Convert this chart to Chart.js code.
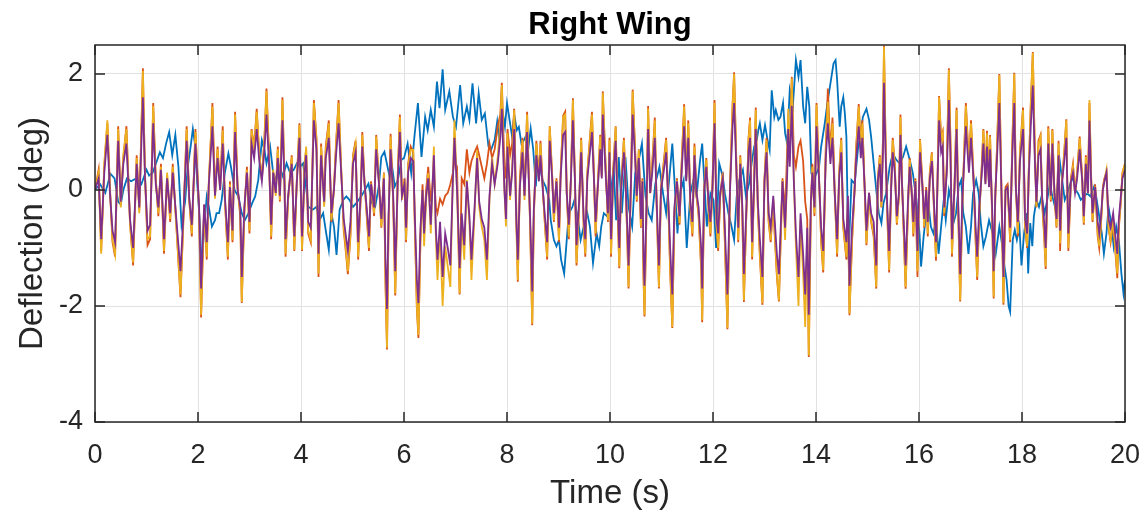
<!DOCTYPE html>
<html>
<head>
<meta charset="utf-8">
<title>Right Wing</title>
<script src="https://cdn.jsdelivr.net/npm/chart.js@4.4.1/dist/chart.umd.min.js"></script>
<style>
  html, body { margin: 0; padding: 0; background: #fff; }
  #wing-chart { display: block; }
</style>
</head>
<body>
<canvas id="wing-chart" width="1145" height="510"></canvas>
<script>
// shared time stamps (s) for the orange / yellow / purple traces
const timeFast = [
  0.00,0.07,0.12,0.18,0.24,0.29,0.34,0.39,0.45,0.50,0.55,0.61,0.68,0.74,0.81,0.86,0.93,0.97,
  1.02,1.07,1.13,1.18,1.23,1.28,1.34,1.40,1.46,1.51,1.57,1.62,1.66,1.71,1.78,1.83,1.88,1.95,
  2.02,2.06,2.12,2.17,2.21,2.28,2.33,2.38,2.43,2.48,2.52,2.58,2.62,2.67,2.72,2.77,2.82,2.85,2.90,2.95,
  3.00,3.04,3.09,3.14,3.19,3.24,3.29,3.33,3.38,3.42,3.46,3.51,3.55,3.59,3.64,3.68,3.70,3.75,3.82,3.87,3.92,3.97,
  4.02,4.07,4.10,4.14,4.19,4.25,4.30,4.34,4.39,4.45,4.48,4.54,4.59,4.64,4.68,4.73,4.78,4.83,4.88,4.91,4.96,
  5.01,5.06,5.11,5.16,5.19,5.23,5.28,5.32,5.36,5.42,5.46,5.51,5.56,5.61,5.64,5.67,5.70,5.74,5.79,5.83,5.88,5.92,5.96,
  6.01,6.04,6.08,6.13,6.18,6.21,6.25,6.28,6.32,6.36,6.39,6.43,6.47,6.52,6.58,6.62,6.65,6.70,6.75,6.80,6.85,6.90,6.95,6.98,
  7.03,7.08,7.12,7.17,7.22,7.27,7.31,7.37,7.42,7.46,7.51,7.56,7.61,7.66,7.71,7.76,7.82,7.87,7.90,7.95,7.98,
  8.01,8.06,8.10,8.14,8.18,8.21,8.25,8.30,8.34,8.39,8.45,8.47,8.49,8.52,8.57,8.62,8.65,8.70,8.74,8.78,8.83,8.88,8.91,8.96,
  9.01,9.04,9.09,9.13,9.16,9.20,9.24,9.28,9.32,9.35,9.40,9.44,9.49,9.52,9.56,9.61,9.65,9.69,9.72,9.76,9.81,9.84,9.86,9.92,9.96,9.99,
  10.02,10.06,10.11,10.14,10.18,10.21,10.27,10.31,10.34,10.36,10.41,10.44,10.49,10.52,10.56,10.60,10.63,10.65,10.67,10.71,10.74,10.78,10.82,10.87,10.90,10.95,10.99,
  11.04,11.09,11.14,11.17,11.21,11.25,11.30,11.35,11.39,11.44,11.48,11.52,11.56,11.60,11.64,11.68,11.72,11.77,11.79,11.83,11.87,11.92,11.95,11.99,
  12.03,12.07,12.10,12.14,12.19,12.23,12.28,12.33,12.38,12.41,12.45,12.49,12.53,12.57,12.60,12.64,12.69,12.72,12.76,12.80,12.83,12.87,12.91,12.96,
  13.00,13.04,13.08,13.12,13.17,13.20,13.24,13.28,13.31,13.35,13.40,13.44,13.46,13.49,13.53,13.57,13.61,13.66,13.70,13.75,13.79,13.83,13.86,13.90,13.93,13.97,
  14.01,14.06,14.10,14.14,14.19,14.23,14.28,14.32,14.36,14.41,14.45,14.49,14.53,14.59,14.62,14.65,14.70,14.75,14.78,14.83,14.87,14.90,14.95,14.98,
  15.03,15.07,15.12,15.17,15.20,15.24,15.27,15.30,15.32,15.35,15.38,15.42,15.46,15.49,15.53,15.57,15.61,15.64,15.67,15.70,15.74,15.79,15.82,15.86,15.89,15.93,15.97,
  16.02,16.07,16.10,16.14,16.17,16.21,16.25,16.30,16.33,16.36,16.39,16.43,16.46,16.49,16.54,16.58,16.61,16.64,16.69,16.73,16.76,16.80,16.84,16.91,16.97,
  17.01,17.06,17.10,17.13,17.17,17.22,17.25,17.29,17.32,17.36,17.38,17.42,17.45,17.48,17.52,17.56,17.60,17.64,17.68,17.72,17.77,17.81,17.85,17.88,17.92,17.96,
  18.02,18.06,18.10,18.13,18.17,18.21,18.25,18.28,18.32,18.36,18.39,18.43,18.46,18.49,18.51,18.56,18.59,18.63,18.67,18.71,18.74,18.78,18.82,18.86,18.90,18.95,18.99,
  19.03,19.07,19.12,19.17,19.20,19.24,19.28,19.31,19.34,19.37,19.42,19.47,19.50,19.53,19.57,19.60,19.64,19.68,19.72,19.77,19.82,19.85,19.88,19.92,19.95,20.00
];

const yellowVals = [
  0.00,0.30,-1.10,0.45,1.20,0.00,-0.85,-1.10,1.05,-0.30,0.60,1.05,-0.60,-1.25,0.55,-0.40,2.05,0.30,
  -0.85,-0.80,1.45,0.15,-0.40,0.40,-1.05,0.30,-0.50,0.40,-0.50,-1.20,-1.80,-0.70,1.05,-0.20,-0.75,1.00,
  -0.30,-2.15,-0.30,-1.15,0.15,1.44,-0.15,0.70,0.00,1.03,-0.15,-1.15,0.10,-0.86,1.30,0.00,-0.40,-1.93,-0.40,0.35,
  -0.70,1.03,0.70,1.35,0.63,0.17,0.86,1.70,0.57,-0.80,0.35,-0.10,0.70,-0.17,1.55,0.11,-1.10,-0.17,0.57,-1.03,0.17,1.12,
  -1.03,0.40,0.75,-0.70,-0.86,1.50,0.86,-1.44,0.75,-0.29,0.69,1.15,-0.52,0.00,0.75,1.50,0.40,-0.63,-1.10,-1.40,-0.75,
  0.57,0.80,-1.15,-0.11,0.95,0.17,-0.46,-1.00,0.11,-0.40,0.92,0.17,-0.63,0.29,-1.55,-2.72,-0.57,0.92,-0.17,-1.78,0.29,1.26,-0.17,
  0.17,-0.86,0.40,0.69,0.69,-0.57,-2.00,-2.50,-0.86,0.00,-0.97,-0.17,0.29,-0.75,0.75,-0.86,-1.55,-0.69,-2.00,-0.97,-1.32,-1.67,0.29,1.20,
  0.00,-1.78,-0.52,-1.20,0.17,-0.57,-1.55,-0.40,0.69,-0.29,-0.63,-0.86,-1.55,-0.17,0.57,0.11,0.57,1.15,1.81,0.00,-0.63,
  0.98,-0.17,0.40,1.38,-0.63,-1.55,0.06,0.86,-0.17,1.30,-0.63,-1.44,-2.30,-0.46,0.80,0.17,0.80,-0.06,-0.63,-1.15,1.09,0.17,-0.52,0.17,
  -0.86,0.23,1.26,1.30,-0.06,-0.80,0.17,1.55,0.17,-1.26,-0.29,0.86,-0.63,-1.10,0.29,0.86,1.30,0.17,-0.75,0.00,0.92,0.23,1.67,0.29,-0.52,0.86,
  -1.10,0.29,1.09,-0.06,-1.32,-0.06,0.86,-0.06,-0.97,-1.67,0.29,1.70,0.63,-0.17,0.69,-0.63,0.17,-1.44,-2.15,-0.29,1.40,-0.06,0.40,1.20,-0.06,-1.67,0.00,
  0.40,0.86,-0.46,-1.38,-2.36,-0.40,0.17,-0.57,0.40,1.44,0.17,1.15,-0.29,-0.75,0.75,-0.11,-0.40,-1.32,-2.24,0.00,0.52,-0.40,-0.75,0.06,
  1.50,-0.63,-1.00,-0.11,0.29,-0.86,-2.38,0.00,1.44,2.00,0.57,-0.86,0.57,-0.40,-1.90,-0.63,0.86,1.20,-1.15,0.17,1.38,-0.29,-1.10,-1.95,
  0.17,0.86,-0.52,-0.86,-0.17,-0.75,-1.44,-1.90,-0.97,0.17,-0.86,0.35,1.40,0.50,1.92,0.17,-0.97,-2.00,-0.52,-1.44,-2.36,-0.86,-2.85,-0.29,0.40,-0.40,
  1.47,0.17,-0.86,-1.38,0.69,1.52,0.57,1.15,0.00,-1.10,0.29,0.86,-0.63,-1.15,-0.17,-2.13,-0.86,0.00,0.69,1.44,0.69,1.15,-0.11,-0.92,
  -0.06,-0.52,-0.75,-1.67,0.17,0.57,-0.29,0.86,2.47,0.86,-0.29,-1.38,0.06,0.86,0.40,-0.57,-0.11,1.26,0.11,-0.63,-1.67,-0.17,0.52,-0.11,-0.75,0.17,-1.40,
  0.86,0.00,-0.63,0.00,-0.75,0.29,0.63,-0.52,-1.15,0.17,1.60,0.86,0.97,-0.40,0.40,2.07,0.86,-1.10,0.06,1.38,-0.29,-1.90,-0.29,1.45,0.40,
  1.15,0.17,-0.86,-1.50,-0.40,0.40,1.03,0.11,0.98,0.06,0.92,-0.40,-1.84,-0.17,0.86,1.98,0.00,-1.95,0.00,0.06,-0.86,0.69,2.00,0.06,-0.75,0.63,
  1.38,-0.63,-0.97,0.29,1.44,2.36,0.63,-0.29,0.80,0.92,-0.17,-0.75,-1.32,0.00,1.06,-0.17,1.03,-0.06,-0.63,0.80,-0.92,0.17,0.63,1.20,-1.00,0.17,0.40,
  -0.06,0.29,0.89,0.17,-0.57,0.57,-0.06,1.55,0.29,-0.52,0.06,-0.75,-0.97,-0.63,0.00,0.17,0.35,-0.63,-0.86,-0.52,-1.10,-1.44,-0.63,-0.17,0.29,0.46
];

const orangeVals = [
  0.00,0.35,-1.05,0.40,1.15,0.05,-0.90,-1.15,1.10,-0.25,0.55,1.10,-0.55,-1.30,0.60,-0.35,2.10,0.25,
  -0.95,-0.85,1.50,0.20,-0.45,0.45,-1.10,0.25,-0.55,0.45,-0.45,-1.25,-1.85,-0.65,1.10,-0.15,-0.80,1.05,
  -0.35,-2.20,-0.25,-1.20,0.10,1.50,-0.10,0.75,0.05,1.10,-0.10,-1.20,0.15,-0.90,1.35,0.05,-0.45,-1.95,-0.35,0.40,
  -0.75,1.05,0.75,1.40,0.60,0.20,0.90,1.75,0.60,-0.85,0.30,-0.05,0.75,-0.20,1.60,0.15,-1.15,-0.15,0.60,-1.05,0.20,1.15,
  -1.05,0.45,0.70,-0.75,-0.90,1.55,0.90,-1.50,0.80,-0.25,0.75,1.20,-0.55,0.05,0.80,1.55,0.35,-0.70,-1.15,-1.45,-0.80,
  0.60,0.85,-1.20,-0.10,1.00,0.20,-0.50,-1.05,0.15,-0.45,0.95,0.20,-0.65,0.30,-1.60,-2.75,-0.60,0.97,-0.20,-1.82,0.30,1.30,-0.15,
  0.20,-0.90,0.45,0.75,0.65,-0.60,-2.05,-2.55,-0.80,0.10,-0.60,0.00,0.40,-0.20,0.30,-0.30,-0.40,-0.15,-0.25,-0.10,-0.05,0.10,0.30,0.50,
  0.40,-1.80,0.20,0.10,0.70,0.30,0.50,0.65,0.75,0.60,0.40,0.20,0.45,0.80,0.55,0.70,1.10,1.30,1.85,0.40,0.20,
  1.05,0.60,0.80,1.40,-0.30,-1.58,0.20,0.90,-0.10,1.35,-0.65,-1.50,-2.33,-0.50,0.85,0.20,0.85,-0.05,-0.65,-1.20,1.10,0.20,-0.55,0.20,
  -0.90,0.25,1.28,1.35,-0.05,-0.85,0.20,1.58,0.15,-1.30,-0.30,0.90,-0.65,-1.15,0.30,0.90,1.35,0.20,-0.80,0.05,0.95,0.25,1.70,0.30,-0.55,0.90,
  -1.15,0.30,1.10,-0.05,-1.35,-0.05,0.90,-0.05,-1.00,-1.70,0.30,1.73,0.65,-0.20,0.70,-0.65,0.20,-1.50,-2.18,-0.30,1.45,-0.05,0.45,1.25,-0.05,-1.70,0.05,
  0.45,0.90,-0.50,-1.45,-2.38,-0.45,0.20,-0.60,0.45,1.48,0.20,1.20,-0.30,-0.80,0.80,-0.10,-0.45,-1.35,-2.28,0.05,0.55,-0.45,-0.80,0.10,
  1.55,-0.65,-1.05,-0.10,0.30,-0.90,-2.40,0.05,1.48,2.03,0.60,-0.90,0.60,-0.45,-1.93,-0.65,0.90,1.25,-1.20,0.20,1.42,-0.30,-1.15,-1.98,
  0.20,0.90,-0.55,-0.90,-0.20,-0.80,-1.48,-1.92,-1.00,0.20,-0.40,0.70,1.00,0.75,1.95,0.60,0.40,0.75,0.85,0.50,-0.20,-0.50,-2.88,-0.30,0.45,-0.45,
  1.50,0.20,-0.90,-1.42,0.75,1.75,0.65,1.25,0.10,-1.15,0.30,0.90,-0.65,-1.20,-0.20,-2.16,-0.90,0.05,0.75,1.48,0.75,1.20,-0.10,-0.95,
  -0.05,-0.55,-0.80,-1.70,0.20,0.60,-0.30,0.90,2.49,0.90,-0.30,-1.42,0.10,0.90,0.45,-0.60,-0.10,1.30,0.15,-0.65,-1.70,-0.20,0.55,-0.10,-0.80,0.20,-1.50,
  0.88,0.05,-0.65,0.05,-0.80,0.30,0.65,-0.55,-1.22,0.20,1.62,0.90,1.00,-0.45,0.45,2.10,0.90,-1.15,0.10,1.42,-0.30,-1.92,-0.30,1.50,0.45,
  1.20,0.20,-0.90,-1.55,-0.45,0.45,1.05,0.15,1.02,0.10,0.95,-0.45,-1.87,-0.20,0.90,2.00,0.05,-1.98,0.05,0.10,-0.90,0.75,2.02,0.10,-0.80,0.65,
  1.42,-0.65,-1.00,0.30,1.48,2.38,0.65,-0.30,0.85,0.95,-0.20,-0.80,-1.36,0.05,1.10,-0.20,1.05,-0.05,-0.65,0.85,-1.05,0.20,0.65,1.22,-1.05,0.20,0.45,
  -0.05,0.30,0.92,0.20,-0.60,0.60,-0.05,1.50,0.30,-0.55,0.10,-0.80,-1.00,-0.65,0.05,0.20,0.30,-0.65,-0.90,-0.55,-1.15,-1.52,-0.65,-0.20,0.30,0.45
];

const purpleVals = [
  0.00,0.20,-0.85,0.30,0.95,-0.05,-0.70,-0.90,0.85,-0.20,0.45,0.80,-0.50,-1.00,0.45,-0.30,1.60,0.25,
  -0.70,-0.60,1.15,0.10,-0.30,0.35,-0.85,0.20,-0.40,0.30,-0.40,-0.95,-1.40,-0.55,0.85,-0.15,-0.60,0.80,
  -0.25,-1.70,-0.25,-0.90,0.10,1.10,-0.10,0.55,0.00,0.80,-0.10,-0.90,0.05,-0.70,1.00,0.00,-0.30,-1.50,-0.30,0.30,
  -0.55,0.80,0.55,1.05,0.50,0.15,0.70,1.30,0.45,-0.60,0.30,-0.05,0.55,-0.10,1.20,0.10,-0.85,-0.10,0.45,-0.80,0.15,0.90,
  -0.80,0.30,0.60,-0.55,-0.65,1.20,0.70,-1.10,0.60,-0.20,0.55,0.90,-0.40,0.00,0.60,1.15,0.30,-0.50,-0.85,-1.05,-0.55,
  0.45,0.65,-0.90,-0.05,0.75,0.15,-0.35,-0.80,0.10,-0.30,0.70,0.15,-0.50,0.20,-1.20,-2.05,-0.45,0.70,-0.10,-1.40,0.20,1.00,-0.10,
  0.10,-0.65,0.30,0.55,0.50,-0.45,-1.55,-1.95,-0.65,0.00,-0.75,-0.10,0.20,-0.60,0.60,-0.70,-1.20,-0.55,-1.50,-0.75,-1.00,-1.30,0.20,0.90,
  0.00,-1.35,-0.40,-0.95,0.15,-0.45,-1.20,-0.30,0.55,-0.20,-0.50,-0.65,-1.20,-0.10,0.45,0.10,0.45,0.90,1.40,0.00,-0.50,
  0.75,-0.10,0.30,1.05,-0.50,-1.20,0.05,0.65,-0.10,1.00,-0.50,-1.10,-1.75,-0.35,0.60,0.15,0.60,-0.05,-0.50,-0.90,0.85,0.15,-0.40,0.15,
  -0.65,0.20,0.95,1.00,-0.05,-0.60,0.15,1.20,0.15,-0.95,-0.20,0.65,-0.50,-0.85,0.20,0.65,1.00,0.15,-0.55,0.00,0.70,0.20,1.30,0.20,-0.40,0.65,
  -0.85,0.20,0.85,-0.05,-1.00,-0.05,0.65,-0.05,-0.75,-1.30,0.20,1.30,0.50,-0.10,0.55,-0.50,0.15,-1.10,-1.65,-0.20,1.05,-0.05,0.30,0.90,-0.05,-1.30,0.00,
  0.30,0.65,-0.35,-1.05,-1.80,-0.30,0.15,-0.45,0.30,1.10,0.15,0.90,-0.20,-0.55,0.60,-0.05,-0.30,-1.00,-1.70,0.00,0.40,-0.30,-0.55,0.05,
  1.15,-0.50,-0.75,-0.05,0.20,-0.65,-1.80,0.00,1.10,1.50,0.45,-0.65,0.45,-0.30,-1.45,-0.50,0.65,0.90,-0.90,0.15,1.05,-0.20,-0.85,-1.50,
  0.15,0.65,-0.40,-0.65,-0.10,-0.55,-1.10,-1.45,-0.75,0.15,-0.65,0.25,1.05,0.40,1.45,0.15,-0.75,-1.50,-0.40,-1.10,-1.80,-0.65,-2.15,-0.20,0.30,-0.30,
  1.10,0.15,-0.65,-1.05,0.55,1.15,0.45,0.90,0.00,-0.85,0.20,0.65,-0.50,-0.90,-0.10,-1.65,-0.65,0.00,0.55,1.10,0.55,0.90,-0.05,-0.70,
  -0.05,-0.40,-0.55,-1.30,0.15,0.45,-0.20,0.65,1.85,0.65,-0.20,-1.05,0.05,0.65,0.30,-0.45,-0.05,0.95,0.10,-0.50,-1.30,-0.10,0.40,-0.05,-0.55,0.15,-1.05,
  0.65,0.00,-0.50,0.00,-0.55,0.20,0.50,-0.40,-0.90,0.15,1.20,0.65,0.75,-0.30,0.30,1.55,0.65,-0.85,0.05,1.05,-0.20,-1.45,-0.20,1.10,0.30,
  0.90,0.15,-0.65,-1.15,-0.30,0.30,0.80,0.10,0.75,0.05,0.70,-0.30,-1.40,-0.10,0.65,1.50,0.00,-1.50,0.00,0.05,-0.65,0.55,1.50,0.05,-0.55,0.50,
  1.05,-0.50,-0.75,0.20,1.10,1.80,0.50,-0.20,0.60,0.70,-0.10,-0.55,-1.00,0.00,0.80,-0.10,0.80,-0.05,-0.50,0.60,-0.70,0.15,0.50,0.90,-0.75,0.15,0.30,
  -0.05,0.20,0.70,0.15,-0.45,0.45,-0.05,1.20,0.20,-0.40,0.05,-0.55,-0.75,-0.50,0.00,0.15,0.30,-0.50,-0.65,-0.40,-0.85,-1.10,-0.50,-0.10,0.20,0.35
];

// blue trace has its own (slower) time stamps
const timeBlue = [
  0.00,0.10,0.20,0.30,0.38,0.45,0.50,0.55,0.62,0.70,0.80,0.90,
  1.00,1.05,1.12,1.20,1.26,1.32,1.38,1.44,1.50,1.56,1.62,1.68,1.75,1.80,1.85,1.90,1.94,1.99,
  2.04,2.07,2.12,2.17,2.21,2.27,2.33,2.36,2.41,2.46,2.52,2.59,2.64,2.71,2.78,2.85,2.91,2.98,
  3.05,3.11,3.17,3.24,3.29,3.33,3.40,3.46,3.52,3.59,3.65,3.72,3.79,3.86,3.92,3.98,
  4.04,4.09,4.14,4.23,4.30,4.36,4.43,4.49,4.54,4.59,4.64,4.69,4.75,4.82,4.88,4.94,
  5.01,5.07,5.17,5.24,5.31,5.38,5.44,5.51,5.56,5.62,5.68,5.72,5.77,5.82,5.88,5.95,
  6.00,6.07,6.14,6.20,6.27,6.34,6.41,6.46,6.52,6.58,6.64,6.69,6.75,6.80,6.88,6.95,
  7.01,7.09,7.15,7.22,7.27,7.33,7.40,7.45,7.51,7.57,7.64,7.69,7.76,7.81,7.85,7.90,7.96,
  8.00,8.06,8.10,8.14,8.19,8.23,8.28,8.33,8.36,8.41,8.46,8.51,8.56,8.59,8.64,8.69,8.75,8.82,8.85,8.91,8.96,
  9.01,9.05,9.11,9.16,9.20,9.27,9.31,9.38,9.43,9.49,9.56,9.61,9.67,9.74,9.79,9.83,9.88,9.95,
  10.01,10.07,10.12,10.17,10.23,10.30,10.36,10.43,10.49,10.56,10.62,10.69,10.75,10.81,10.88,10.96,
  11.03,11.09,11.16,11.21,11.27,11.31,11.36,11.43,11.49,11.56,11.62,11.68,11.75,11.79,11.83,11.88,11.95,
  12.01,12.06,12.12,12.19,12.23,12.30,12.36,12.41,12.46,12.51,12.58,12.64,12.70,12.75,12.80,12.85,12.88,12.91,12.96,
  13.01,13.06,13.10,13.14,13.19,13.22,13.27,13.31,13.36,13.40,13.44,13.49,13.55,13.61,13.66,13.70,13.75,13.79,13.83,13.87,13.91,13.96,
  14.01,14.06,14.10,14.17,14.23,14.30,14.34,14.38,14.41,14.46,14.49,14.53,14.56,14.59,14.63,14.69,14.75,14.82,14.86,14.91,14.98,
  15.03,15.07,15.12,15.17,15.22,15.27,15.31,15.36,15.43,15.49,15.56,15.62,15.69,15.75,15.82,15.88,15.95,
  16.01,16.04,16.09,16.14,16.19,16.23,16.28,16.33,16.38,16.43,16.48,16.52,16.58,16.62,16.67,16.72,16.77,16.82,16.86,16.91,16.96,
  17.01,17.05,17.11,17.16,17.20,17.25,17.30,17.36,17.43,17.49,17.56,17.61,17.66,17.70,17.74,17.77,17.82,17.86,17.90,17.95,17.99,
  18.04,18.09,18.12,18.16,18.20,18.23,18.28,18.33,18.38,18.44,18.49,18.54,18.59,18.64,18.69,18.73,18.78,18.83,18.88,18.92,18.98,
  19.04,19.09,19.14,19.20,19.27,19.33,19.40,19.44,19.49,19.55,19.59,19.64,19.68,19.74,19.78,19.83,19.88,19.93,19.97,20.00
];

const blueVals = [
  0.00,0.10,-0.05,0.28,0.20,-0.20,-0.25,0.00,0.20,0.15,0.20,0.10,
  0.35,0.25,0.30,0.50,0.65,0.55,0.80,1.00,0.60,0.95,0.40,-0.60,-0.20,0.40,0.70,1.05,0.80,0.05,
  -0.63,-1.38,-0.63,-0.11,-0.29,-0.63,-0.52,-0.40,-0.40,-0.17,0.29,0.63,0.40,0.00,-0.11,-0.40,-0.52,-0.40,
  -0.23,-0.11,0.17,0.86,0.69,0.46,0.75,0.29,0.17,0.40,0.23,0.46,0.29,0.35,0.46,0.40,
  0.46,0.11,-0.29,-0.34,-0.29,-0.52,-0.40,-0.75,-1.03,-0.40,-0.63,-1.12,-0.34,-0.17,-0.11,-0.17,
  -0.29,-0.23,-0.11,0.00,0.11,-0.23,-0.29,0.06,0.57,0.66,0.40,0.23,0.40,0.06,0.17,0.52,
  0.55,0.80,0.29,0.90,1.50,0.57,1.26,1.03,1.38,1.09,1.87,1.41,2.08,1.38,1.70,1.26,
  1.09,1.81,1.15,1.44,1.21,1.84,1.15,1.67,1.21,1.32,0.75,0.69,0.86,1.18,0.86,1.44,1.09,
  1.50,1.15,0.92,1.30,1.03,1.09,0.80,0.86,0.92,0.69,1.06,0.69,0.06,0.52,0.40,0.17,0.06,-0.17,-0.52,-0.86,-0.97,
  -0.86,-1.20,-1.44,-0.86,-0.40,-0.29,-0.17,-0.52,-0.86,-0.63,-0.40,-0.63,-1.26,-0.75,-0.97,-0.63,-0.40,-0.46,
  -0.11,0.40,-0.52,0.57,-0.40,0.57,-0.29,-0.63,0.29,0.52,0.80,-0.11,-0.40,-0.52,0.11,0.40,
  -0.06,-0.40,0.29,0.80,-0.11,-0.75,-0.06,0.17,-1.00,-0.06,0.17,-0.11,0.52,0.80,0.17,-0.63,-0.06,
  -0.17,-1.00,0.46,0.23,-0.06,-0.40,-0.63,-0.86,-0.11,0.17,0.35,-0.11,0.11,0.46,0.75,0.86,1.03,1.15,0.86,
  1.12,0.86,0.69,1.72,1.26,1.38,1.21,1.26,1.50,0.98,0.80,1.72,1.44,2.24,1.95,2.24,1.44,1.15,1.78,1.44,0.29,0.20,
  0.29,0.40,0.75,1.15,1.55,1.95,2.18,2.24,1.90,1.09,1.44,1.60,1.32,0.92,-1.20,0.17,0.11,0.75,0.92,1.26,1.40,
  1.21,0.92,0.46,0.00,-0.40,-0.57,-0.23,-0.06,0.40,0.63,0.52,0.46,0.57,0.75,0.52,0.29,-0.17,
  -0.75,-1.32,-0.80,-0.40,-0.29,-0.63,-0.75,-0.52,-1.10,-0.63,-0.17,-0.52,0.00,-0.17,-0.57,-0.40,0.06,0.17,-0.40,-0.63,-1.10,
  -0.63,-0.06,0.17,-0.06,-0.57,-0.97,-0.80,-0.52,-0.75,-1.10,-0.63,-0.92,-1.32,-1.55,-2.00,-2.10,-0.86,-0.69,-0.86,-0.63,-1.30,
  -0.75,-0.40,-1.44,-0.57,-0.97,-0.46,-0.17,-0.29,-0.11,-0.40,-0.17,0.11,-0.11,-0.29,0.06,0.52,0.17,-0.17,-0.06,0.06,0.23,
  0.00,-0.06,-0.17,-0.11,-0.06,-0.11,0.06,-0.11,-0.40,-0.75,-1.10,-0.75,-0.29,-0.63,-0.97,-0.63,-0.86,-1.44,-1.78,-1.55
];

const xTickVals = [0, 2, 4, 6, 8, 10, 12, 14, 16, 18, 20];
const yTickVals = [-4, -2, 0, 2];

if (yellowVals.length !== timeFast.length || orangeVals.length !== timeFast.length ||
    purpleVals.length !== timeFast.length || blueVals.length !== timeBlue.length) {
  throw new Error(`length mismatch: t=${timeFast.length} y=${yellowVals.length} o=${orangeVals.length} p=${purpleVals.length} tb=${timeBlue.length} b=${blueVals.length}`);
}

function toPoints(times, vals) {
  return times.map((t, i) => ({ x: t, y: vals[i] }));
}

const axisColor = '#262626';
const fontFamily = '"Liberation Sans", Arial, Helvetica, sans-serif';
Chart.defaults.font.family = fontFamily;

// MATLAB style box with inward ticks on all four sides
const boxTicksPlugin = {
  id: 'boxTicks',
  afterDraw(chart) {
    const { ctx, chartArea: a, scales: { x, y } } = chart;
    const len = 10;
    ctx.save();
    ctx.strokeStyle = axisColor;
    ctx.lineWidth = 1.5;
    ctx.strokeRect(a.left, a.top, a.right - a.left, a.bottom - a.top);
    ctx.beginPath();
    xTickVals.forEach(v => {
      const px = x.getPixelForValue(v);
      ctx.moveTo(px, a.bottom); ctx.lineTo(px, a.bottom - len);
      ctx.moveTo(px, a.top); ctx.lineTo(px, a.top + len);
    });
    yTickVals.forEach(v => {
      const py = y.getPixelForValue(v);
      ctx.moveTo(a.left, py); ctx.lineTo(a.left + len, py);
      ctx.moveTo(a.right, py); ctx.lineTo(a.right - len, py);
    });
    ctx.stroke();
    ctx.restore();
  }
};

function lineSet(label, color, data, order) {
  return {
    label, data, order,
    borderColor: color,
    backgroundColor: color,
    borderWidth: 1.8,
    pointRadius: 0,
    tension: 0,
    fill: false
  };
}

new Chart(document.getElementById('wing-chart'), {
  type: 'line',
  data: {
    datasets: [
      lineSet('Blue', '#0072BD', toPoints(timeBlue, blueVals), 4),
      lineSet('Orange', '#D95319', toPoints(timeFast, orangeVals), 3),
      lineSet('Yellow', '#EDB120', toPoints(timeFast, yellowVals), 2),
      lineSet('Purple', '#7E2F8E', toPoints(timeFast, purpleVals), 1)
    ]
  },
  options: {
    responsive: false,
    animation: false,
    devicePixelRatio: 1,
    layout: { padding: { top: 0, right: 20, bottom: 0, left: 0 } },
    plugins: {
      legend: { display: false },
      tooltip: { enabled: false },
      title: {
        display: true,
        text: 'Right Wing',
        color: '#000',
        fullSize: false,
        font: { size: 31, weight: 'bold', lineHeight: 1 },
        padding: { top: 10, bottom: 4 }
      }
    },
    scales: {
      x: {
        type: 'linear',
        min: 0,
        max: 20,
        afterBuildTicks: s => { s.ticks = xTickVals.map(v => ({ value: v })); },
        afterFit: s => { s.height = 88; s.paddingLeft = 0; s.paddingRight = 0; },
        ticks: {
          color: axisColor,
          font: { size: 27, lineHeight: 1 },
          padding: 20,
          maxRotation: 0,
          autoSkip: false,
          callback: v => `${v}`
        },
        grid: { color: '#e2e2e2', lineWidth: 1, drawTicks: false },
        border: { display: false },
        title: {
          display: true,
          text: 'Time (s)',
          color: axisColor,
          font: { size: 33, lineHeight: 1 },
          padding: { top: 0, bottom: 0 }
        }
      },
      y: {
        type: 'linear',
        min: -4,
        max: 2.5,
        afterBuildTicks: s => { s.ticks = yTickVals.map(v => ({ value: v })); },
        afterFit: s => { s.width = 95; s.paddingTop = 0; s.paddingBottom = 0; },
        ticks: {
          color: axisColor,
          font: { size: 27, lineHeight: 1 },
          padding: 12,
          callback: v => `${v}`
        },
        grid: { color: '#e2e2e2', lineWidth: 1, drawTicks: false },
        border: { display: false },
        title: {
          display: true,
          text: 'Deflection (deg)',
          color: axisColor,
          font: { size: 33, lineHeight: 1 },
          padding: { top: 16, bottom: 0 }
        }
      }
    }
  },
  plugins: [boxTicksPlugin]
});
</script>
</body>
</html>
